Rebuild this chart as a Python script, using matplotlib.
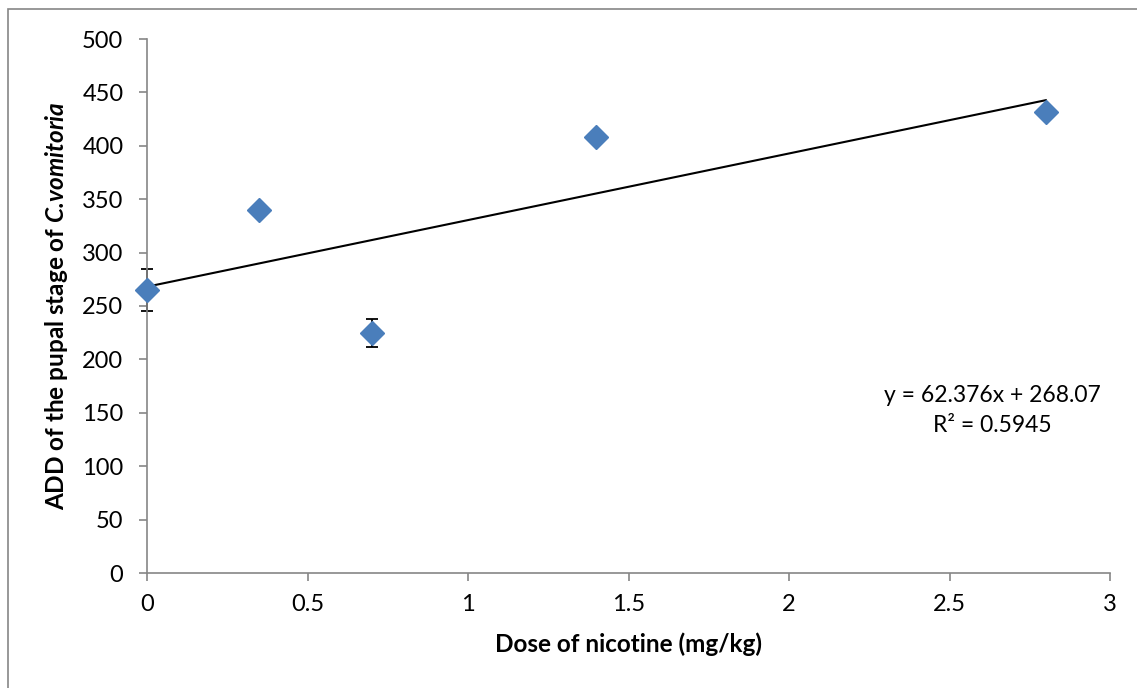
import numpy as np
import matplotlib
matplotlib.use('Agg')
import matplotlib.pyplot as plt
from matplotlib.patches import Rectangle

plt.rcParams['font.family'] = ['Lato', 'DejaVu Sans']
plt.rcParams['mathtext.fontset'] = 'custom'
plt.rcParams['mathtext.bfit'] = 'Lato:italic:bold'
plt.rcParams['mathtext.it'] = 'Lato:italic'
plt.rcParams['mathtext.bf'] = 'Lato:bold'
plt.rcParams['mathtext.rm'] = 'Lato'

# data
dose = [0.0, 0.35, 0.7, 1.4, 2.8]
add_pupal = [265, 340, 225, 408, 432]
add_err = [20, 4, 13, 0, 0]
slope = 62.376
intercept = 268.07
r2 = 0.5945

fig = plt.figure(figsize=(11.37, 6.88), dpi=100)
ax = fig.add_axes([147 / 1137, 1 - 573 / 688, (1110 - 147) / 1137, (573 - 39) / 688])

# outer chart border
fig.patches.append(Rectangle((8 / 1137, -0.1), 1.2, 1 - 9 / 688 + 0.1, transform=fig.transFigure,
                             fill=False, edgecolor='#868686', linewidth=1.2))

eb = ax.errorbar(dose, add_pupal, yerr=add_err, fmt='none', ecolor='black', elinewidth=1.3,
                 capsize=4.5, capthick=1.3, zorder=2)
for art in eb.lines[1] + eb.lines[2]:
    art.set_clip_on(False)
ax.plot(dose, add_pupal, 'D', color='#4a7ebb', markersize=12.5, markeredgecolor='#4a7ebb',
        zorder=3, clip_on=False)

xt = np.array([0, dose[-1]])
ax.plot(xt, slope * xt + intercept, color='black', linewidth=1.5, zorder=2.5)

ax.set_xlim(0, 3)
ax.set_ylim(0, 500)
ax.set_xticks(np.arange(0, 3.01, 0.5))
ax.set_xticklabels(['0', '0.5', '1', '1.5', '2', '2.5', '3'])
ax.set_yticks(np.arange(0, 501, 50))
ax.spines['top'].set_visible(False)
ax.spines['right'].set_visible(False)
for s in ['left', 'bottom']:
    ax.spines[s].set_color('#868686')
    ax.spines[s].set_linewidth(1.2)
ax.tick_params(axis='both', direction='out', length=6, width=1.2, color='#868686',
               labelsize=17)
ax.tick_params(axis='x', pad=9)
ax.tick_params(axis='y', pad=11)

ax.set_xlabel('Dose of nicotine (mg/kg)', fontsize=17.5, fontweight='bold', labelpad=13)
ax.set_ylabel(r'ADD of the pupal stage of $\mathbfit{C.\!vomitoria}$', fontsize=17.5,
              fontweight='bold', labelpad=9)

ax.text(992 / 1137, 1 - 396 / 688, 'y = {:.3f}x + {:.2f}'.format(slope, intercept),
        transform=fig.transFigure, ha='center', va='center', fontsize=16.5)
ax.text(992 / 1137, 1 - 426 / 688, 'R² = {:.4f}'.format(r2),
        transform=fig.transFigure, ha='center', va='center', fontsize=16.5)

fig.savefig('out.png', dpi=100)
